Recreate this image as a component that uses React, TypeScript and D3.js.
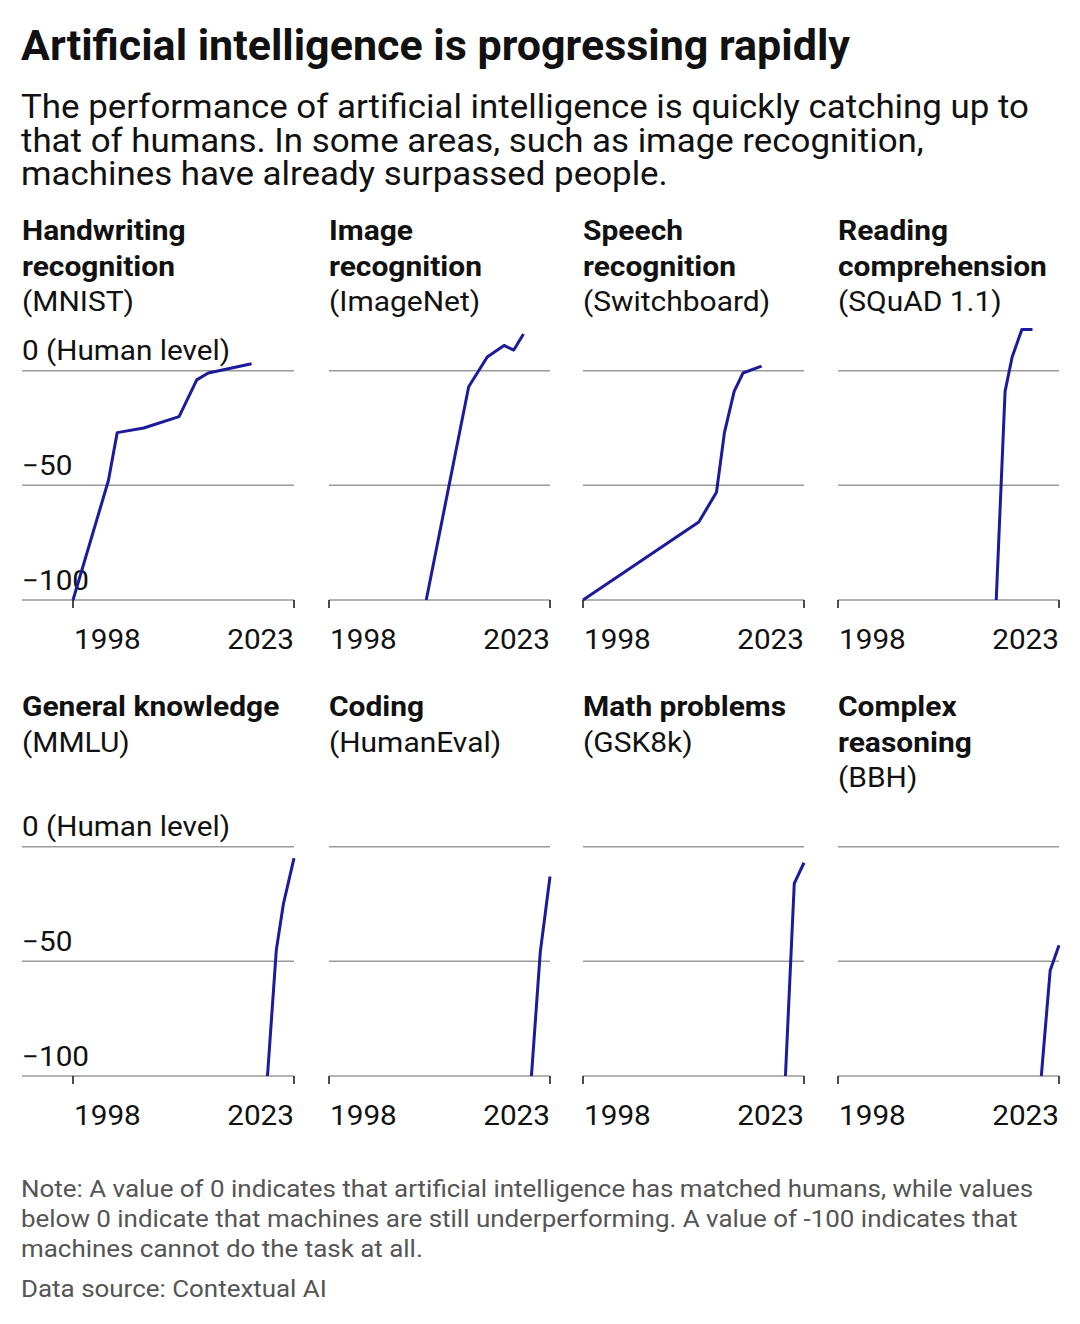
import React from 'react';
import * as d3 from 'd3';

// values relative to human level (0)
const mnistYears = [1998, 2002, 2003, 2006, 2010, 2012, 2013.3, 2018.2];
const mnistValues = [-100, -48, -27, -25, -20, -4, -1, 3];
const imagenetYears = [2009, 2013.8, 2015.9, 2017.8, 2018.9, 2020];
const imagenetValues = [-100, -7, 6, 11, 9, 16];
const switchboardYears = [1998, 2011.1, 2013.1, 2014, 2015.1, 2016.1, 2018.2];
const switchboardValues = [-100, -66, -53, -27, -9, -1, 2];
const squadYears = [2015.9, 2016.9, 2017.7, 2018.8, 2020];
const squadValues = [-100, -9, 6, 18, 18];
const mmluYears = [2020, 2021, 2021.8, 2023];
const mmluValues = [-100, -45, -25, -5];
const humanevalYears = [2020.9, 2021.9, 2023];
const humanevalValues = [-100, -46, -13];
const gsm8kYears = [2020.9, 2021.9, 2023];
const gsm8kValues = [-100, -16, -7];
const bbhYears = [2021, 2022, 2023];
const bbhValues = [-100, -54, -43];

const panelTitles = [
  ['Handwriting', 'recognition'],
  ['Image', 'recognition'],
  ['Speech', 'recognition'],
  ['Reading', 'comprehension'],
  ['General knowledge'],
  ['Coding'],
  ['Math problems'],
  ['Complex', 'reasoning'],
];
const panelSources = ['(MNIST)', '(ImageNet)', '(Switchboard)', '(SQuAD 1.1)', '(MMLU)', '(HumanEval)', '(GSK8k)', '(BBH)'];
const yearsList = [mnistYears, imagenetYears, switchboardYears, squadYears, mmluYears, humanevalYears, gsm8kYears, bbhYears];
const valuesList = [mnistValues, imagenetValues, switchboardValues, squadValues, mmluValues, humanevalValues, gsm8kValues, bbhValues];

const yTicks = [0, -50, -100];
const xTicks = [1998, 2023];

const title = 'Artificial intelligence is progressing rapidly';
const subtitle = [
  'The performance of artificial intelligence is quickly catching up to',
  'that of humans. In some areas, such as image recognition,',
  'machines have already surpassed people.',
];
const notes = [
  'Note: A value of 0 indicates that artificial intelligence has matched humans, while values',
  'below 0 indicate that machines are still underperforming. A value of -100 indicates that',
  'machines cannot do the task at all.',
];
const source = 'Data source: Contextual AI';

const W = 1080;
const H = 1324;
const colLeft = [73, 329, 583, 838];
const plotW = 221;
const rowShift = 476;
const font = 'Roboto, sans-serif';
const lineColor = '#1b1b9c';
const gridColor = '#999';

const fmt = (v: number) => (v === 0 ? '0 (Human level)' : `\u2212${Math.abs(v)}`);

// the reference's type is a bit wider than Roboto, so text is stretched sideways
type TProps = {
  x: number;
  y: number;
  size: number;
  sx: number;
  weight?: number;
  fill?: string;
  anchor?: 'start' | 'end';
  children: React.ReactNode;
};
const T = ({ x, y, size, sx, weight = 400, fill = '#111', anchor = 'start', children }: TProps) => (
  <text
    transform={`translate(${x},${y}) scale(${sx},1)`}
    fontFamily={font}
    fontSize={size}
    fontWeight={weight}
    fill={fill}
    textAnchor={anchor}
  >
    {children}
  </text>
);

const Panel: React.FC<{ i: number }> = ({ i }) => {
  const col = i % 4;
  const row = Math.floor(i / 4);
  const dy = row * rowShift;
  const x0 = colLeft[col];
  const gridLeft = col === 0 ? 22 : x0;
  const textLeft = col === 0 ? 22 : x0;

  const x = d3.scaleLinear().domain([1998, 2023]).range([x0, x0 + plotW]);
  const y = d3.scaleLinear().domain([-100, 0]).range([600 + dy, 370.7 + dy]);

  const data = yearsList[i].map((yr, k) => [yr, valuesList[i][k]] as [number, number]);
  const line = d3.line<[number, number]>()
    .x((d) => x(d[0]))
    .y((d) => y(d[1]));

  const titleLines = panelTitles[i];

  return (
    <g>
      {titleLines.map((t, k) => (
        <T key={t} x={textLeft} y={240 + dy + k * 35.5} size={28} sx={1.07} weight={700}>
          {t}
        </T>
      ))}
      <T x={textLeft} y={240 + dy + titleLines.length * 35.5} size={28} sx={1.07}>
        {panelSources[i]}
      </T>

      {yTicks.map((v) => (
        <line key={v} x1={gridLeft} x2={x0 + plotW} y1={y(v)} y2={y(v)} stroke={gridColor} strokeWidth={1.5} />
      ))}
      {col === 0 && yTicks.map((v) => (
        <T key={`l${v}`} x={22} y={y(v) - 10.5} size={27} sx={1.1}>
          {fmt(v)}
        </T>
      ))}

      {xTicks.map((t, k) => (
        <g key={t}>
          <line x1={x(t)} x2={x(t)} y1={y(-100)} y2={y(-100) + 8} stroke="#111" strokeWidth={1.5} />
          <T x={x(t) + (k === 0 ? 1 : 0)} y={649 + dy} size={27} sx={1.1} anchor={k === 0 ? 'start' : 'end'}>
            {t}
          </T>
        </g>
      ))}

      <path d={line(data) || ''} fill="none" stroke={lineColor} strokeWidth={3} strokeLinejoin="round" />
    </g>
  );
};

export default function App() {
  return (
    <svg width={W} height={H} viewBox={`0 0 ${W} ${H}`} style={{ position: 'absolute', left: 0, top: 0, background: '#fff' }}>
      <rect width={W} height={H} fill="#fff" />
      <T x={21} y={60} size={43} sx={1} weight={700}>
        {title}
      </T>
      {subtitle.map((s, k) => (
        <T key={k} x={21} y={118 + k * 33.5} size={33} sx={1.057}>
          {s}
        </T>
      ))}

      {panelTitles.map((_, i) => (
        <Panel key={i} i={i} />
      ))}

      {notes.map((s, k) => (
        <T key={k} x={21} y={1197 + k * 30} size={23} sx={1.128} fill="#555">
          {s}
        </T>
      ))}
      <T x={21} y={1297} size={23} sx={1.128} fill="#555">
        {source}
      </T>
    </svg>
  );
}
